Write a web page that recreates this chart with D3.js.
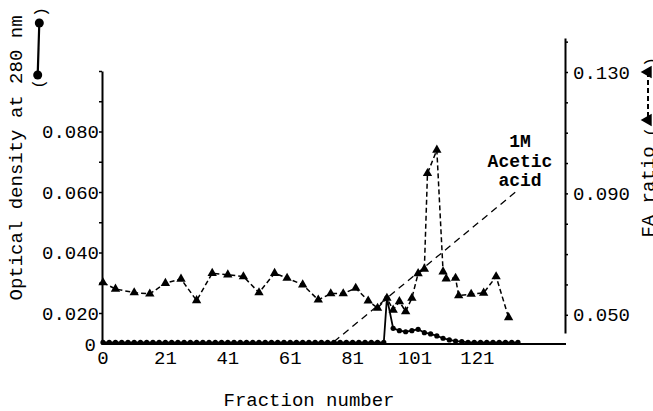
<!DOCTYPE html>
<html>
<head>
<meta charset="utf-8">
<script src="https://cdn.jsdelivr.net/npm/d3@7"></script>
<style>
  html, body { margin: 0; padding: 0; background: #fff; }
  svg text { font-family: "Liberation Mono", "Courier New", monospace; fill: #000; }
</style>
</head>
<body>
<div id="chart"></div>
<script>
(function() {
"use strict";

// x axis ticks (label text as printed on the figure)
const fractionTicks = [1, 21, 41, 61, 81, 101, 121];
const fractionLabels = ["0", "21", "41", "61", "81", "101", "121"];

// optical density at 280 nm (circles, left axis)
const odFractions = [
  1, 3, 5, 7, 9, 11, 13, 15, 17, 19, 21, 23, 25, 27, 29, 31, 33, 35, 37, 39, 41, 43, 45,
  47, 49, 51, 53, 55, 57, 59, 61, 63, 65, 67, 69, 71, 73, 75, 77, 79, 81, 83, 85, 87, 89, 91,
  92, 94, 96, 98, 100, 102, 104, 106, 108, 110, 112, 114, 116, 118, 120, 122, 124, 126, 128, 130, 132, 134
];
const odValues = [
  0.001, 0.001, 0.001, 0.001, 0.001, 0.001, 0.001, 0.001, 0.001, 0.001, 0.001, 0.001, 0.001, 0.001, 0.001, 0.001,
  0.001, 0.001, 0.001, 0.001, 0.001, 0.001, 0.001, 0.001, 0.001, 0.001, 0.001, 0.001, 0.001, 0.001, 0.001, 0.001,
  0.001, 0.001, 0.001, 0.001, 0.001, 0.001, 0.001, 0.001, 0.001, 0.001, 0.001, 0.001, 0.001, 0.001,
  0.025, 0.0101, 0.0086, 0.0079, 0.0086, 0.0095, 0.0073, 0.0065, 0.0052, 0.0037, 0.0026, 0.0019, 0.0015,
  0.001, 0.001, 0.001, 0.001, 0.001, 0.001, 0.001, 0.001, 0.001
];

// FA ratio (triangles, right axis)
const faFractions = [
  1, 5, 11, 16, 21, 26, 31, 36, 41, 46, 51, 56, 60, 65, 70, 74, 78, 82, 86, 89,
  92, 94, 96, 98, 100, 102, 104, 105, 108, 110, 111, 114, 115, 119, 123, 127, 131
];
const faValues = [
  0.0606, 0.0585, 0.0573, 0.0569, 0.0604, 0.0618, 0.0547, 0.0637, 0.0632, 0.0626,
  0.0573, 0.0637, 0.0621, 0.0599, 0.0549, 0.0570, 0.0570, 0.0588, 0.0546, 0.0522,
  0.0555, 0.0516, 0.0544, 0.0511, 0.0555, 0.0636, 0.0651, 0.0966, 0.1043, 0.0642,
  0.0619, 0.0621, 0.0563, 0.0568, 0.0572, 0.0626, 0.0491
];

// 1M acetic acid gradient (drawn against the right axis)
const gradientFractions = [75, 134];
const gradientValues = [0.0411, 0.0911];

const leftTicks = [0, 0.02, 0.03, 0.04, 0.05, 0.06, 0.07, 0.08, 0.09, 0.1];
const leftLabelled = [0, 0.02, 0.04, 0.06, 0.08];
const rightTicks = [0.05, 0.06, 0.07, 0.08, 0.09, 0.10, 0.11, 0.12, 0.13, 0.14];
const rightLabelled = [0.05, 0.09, 0.13];

const WIDTH = 653;
const HEIGHT = 411;
const FONT = 19;

const svg = d3.select("#chart")
  .append("svg")
  .attr("width", WIDTH)
  .attr("height", HEIGHT);

const xScale = d3.scaleLinear().domain([1, 121]).range([103, 477.4]);
// broken axis: 0 sits on the baseline, 0.020 upward is linear
const yLeft = d3.scaleLinear().domain([0, 0.02, 0.1]).range([344, 313, 71]);
const yRight = d3.scaleLinear().domain([0.044, 0.1412]).range([333, 38]);

// x axis line, no ticks
svg.append("line")
  .attr("x1", 102).attr("x2", 566)
  .attr("y1", 344).attr("y2", 344)
  .attr("stroke", "#000").attr("stroke-width", 2);

svg.append("g")
  .selectAll("text")
  .data(fractionTicks)
  .enter()
  .append("text")
    .attr("x", d => xScale(d))
    .attr("y", 357)
    .attr("dy", "0.35em")
    .attr("text-anchor", "middle")
    .attr("font-size", FONT)
    .text((d, i) => fractionLabels[i]);

// left axis
const leftAxis = d3.axisLeft(yLeft)
  .tickValues(leftTicks)
  .tickSize(3)
  .tickSizeOuter(0)
  .tickPadding(0)
  .tickFormat(d => leftLabelled.some(v => Math.abs(v - d) < 1e-9) ? (d === 0 ? "0" : d3.format(".3f")(d)) : "");

const gl = svg.append("g")
  .attr("transform", "translate(102, 0)")
  .call(leftAxis);
gl.select(".domain").attr("stroke-width", 2);
gl.selectAll(".tick line").attr("stroke-width", 1.5);
gl.selectAll(".tick text").attr("font-size", FONT).attr("font-family", null);
gl.selectAll(".tick").filter(d => d === 0).select("line").remove();
gl.selectAll(".tick").filter(d => d === 0).select("text").attr("x", -6);

// right axis
const rightAxis = d3.axisRight(yRight)
  .tickValues(rightTicks)
  .tickSize(3)
  .tickSizeOuter(0)
  .tickPadding(5)
  .tickFormat(d => rightLabelled.some(v => Math.abs(v - d) < 1e-9) ? d3.format(".3f")(d) : "");

const gr = svg.append("g")
  .attr("transform", "translate(565, 0)")
  .call(rightAxis);
gr.select(".domain").attr("stroke-width", 2);
gr.selectAll(".tick line").attr("stroke-width", 1.5);
gr.selectAll(".tick text").attr("font-size", FONT).attr("font-family", null);

// gradient line
const gradient = gradientFractions.map((f, i) => ({ f: f, v: gradientValues[i] }));
svg.append("path")
  .datum(gradient)
  .attr("fill", "none")
  .attr("stroke", "#000")
  .attr("stroke-width", 1.3)
  .attr("stroke-dasharray", "7,5")
  .attr("d", d3.line().x(d => xScale(d.f)).y(d => yRight(d.v)));

const acid = svg.append("text")
  .attr("text-anchor", "middle")
  .attr("font-size", 18)
  .attr("font-weight", "bold");
["1M", "Acetic", "acid"].forEach((t, i) => {
  acid.append("tspan").attr("x", 520).attr("y", 147 + i * 19.5).text(t);
});

// FA ratio series
const fa = faFractions.map((f, i) => ({ f: f, v: faValues[i] }));
svg.append("path")
  .datum(fa)
  .attr("fill", "none")
  .attr("stroke", "#000")
  .attr("stroke-width", 1.5)
  .attr("stroke-dasharray", "5,3")
  .attr("d", d3.line().x(d => xScale(d.f)).y(d => yRight(d.v)));

const tri = d3.symbol(d3.symbolTriangle).size(38);
svg.selectAll("path.tri")
  .data(fa)
  .enter()
  .append("path")
    .attr("class", "tri")
    .attr("d", tri)
    .attr("transform", d => `translate(${xScale(d.f)}, ${yRight(d.v)})`)
    .attr("fill", "#000");

// optical density series
const od = odFractions.map((f, i) => ({ f: f, v: odValues[i] }));
svg.append("path")
  .datum(od)
  .attr("fill", "none")
  .attr("stroke", "#000")
  .attr("stroke-width", 1.8)
  .attr("d", d3.line().x(d => xScale(d.f)).y(d => yLeft(d.v)));

svg.selectAll("circle.od")
  .data(od)
  .enter()
  .append("circle")
    .attr("class", "od")
    .attr("cx", d => xScale(d.f))
    .attr("cy", d => yLeft(d.v))
    .attr("r", 2.6)
    .attr("fill", "#000");

// axis titles
svg.append("text")
  .attr("transform", "translate(22, 158) rotate(-90)")
  .attr("text-anchor", "middle")
  .attr("font-size", FONT)
  .text("Optical density at 280 nm");

svg.append("text")
  .attr("x", 309)
  .attr("y", 406)
  .attr("text-anchor", "middle")
  .attr("font-size", FONT)
  .text("Fraction number");

svg.append("text")
  .attr("transform", "translate(654, 192) rotate(-90)")
  .attr("text-anchor", "middle")
  .attr("font-size", FONT)
  .text("FA ratio");

// left legend key (circle — circle)
const kl = svg.append("g");
kl.append("line")
  .attr("x1", 39.3).attr("y1", 23).attr("x2", 37.7).attr("y2", 75)
  .attr("stroke", "#000").attr("stroke-width", 2.2);
kl.selectAll("circle")
  .data([[39.3, 23], [37.7, 75]])
  .enter()
  .append("circle")
    .attr("cx", d => d[0]).attr("cy", d => d[1])
    .attr("r", 4.5).attr("fill", "#000");
kl.append("text")
  .attr("transform", "translate(44, 84) rotate(-90)")
  .attr("font-size", 16).attr("text-anchor", "middle")
  .text("(");
kl.append("text")
  .attr("transform", "translate(46, 12) rotate(-90)")
  .attr("font-size", 16).attr("text-anchor", "middle")
  .text(")");

// right legend key (triangle - - triangle)
const kr = svg.append("g");
kr.append("line")
  .attr("x1", 648).attr("y1", 72).attr("x2", 648).attr("y2", 120)
  .attr("stroke", "#000").attr("stroke-width", 2)
  .attr("stroke-dasharray", "5,3");
kr.selectAll("path")
  .data([[648, 72], [648, 120]])
  .enter()
  .append("path")
    .attr("d", d3.symbol(d3.symbolTriangle).size(70))
    .attr("transform", d => `translate(${d[0]}, ${d[1]}) rotate(-90)`)
    .attr("fill", "#000");
kr.append("text")
  .attr("transform", "translate(656, 132) rotate(-90)")
  .attr("font-size", 16).attr("text-anchor", "middle")
  .text("(");
kr.append("text")
  .attr("transform", "translate(656, 62) rotate(-90)")
  .attr("font-size", 16).attr("text-anchor", "middle")
  .text(")");

})();
</script>
</body>
</html>
